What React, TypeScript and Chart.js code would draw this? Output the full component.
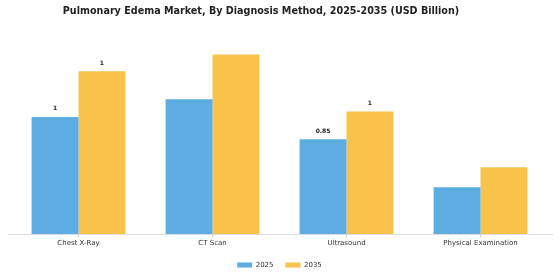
import React, { useEffect, useRef } from "react";
import { Chart, registerables } from "chart.js";

Chart.register(...registerables);

const TITLE = "Pulmonary Edema Market, By Diagnosis Method, 2025-2035 (USD Billion)";
const categories = ["Chest X-Ray", "CT Scan", "Ultrasound", "Physical Examination"];
const seriesNames = ["2025", "2035"];
const values2025 = [1.05, 1.21, 0.85, 0.42];
const values2035 = [1.46, 1.61, 1.1, 0.6];
const labels2025 = ["1", "", "0.85", ""];
const labels2035 = ["1", "", "1", ""];
const COLORS = ["#5DADE2", "#F8C24B"];
const FONT = "'DejaVu Sans', sans-serif";

const titlePlugin = {
  id: "customTitle",
  afterDraw(chart: any) {
    const ctx = chart.ctx;
    ctx.save();
    ctx.font = `bold 9.6px ${FONT}`;
    ctx.fillStyle = "#222";
    ctx.textAlign = "center";
    ctx.textBaseline = "middle";
    ctx.fillText(TITLE, 261, 11);
    ctx.restore();
  },
};

const axisLinePlugin = {
  id: "axisLine",
  beforeDatasetsDraw(chart: any) {
    const ctx = chart.ctx;
    const y = Math.round(chart.chartArea.bottom) + 0.5;
    ctx.save();
    ctx.strokeStyle = "#dddddd";
    ctx.lineWidth = 1;
    ctx.beginPath();
    ctx.moveTo(7.5, y);
    ctx.lineTo(553, y);
    ctx.stroke();
    ctx.restore();
  },
};

const valueLabelPlugin = {
  id: "valueLabels",
  afterDatasetsDraw(chart: any) {
    const ctx = chart.ctx;
    const all = [labels2025, labels2035];
    ctx.save();
    ctx.font = `bold 6px ${FONT}`;
    ctx.fillStyle = "#222";
    ctx.textAlign = "center";
    ctx.textBaseline = "middle";
    chart.data.datasets.forEach((_ds: any, di: number) => {
      const meta = chart.getDatasetMeta(di);
      meta.data.forEach((bar: any, i: number) => {
        const t = all[di][i];
        if (t) ctx.fillText(t, bar.x, bar.y - 8.2);
      });
    });
    ctx.restore();
  },
};

export default function App() {
  const ref = useRef<HTMLCanvasElement | null>(null);
  useEffect(() => {
    if (!ref.current) return;
    const chart = new Chart(ref.current, {
      type: "bar",
      data: {
        labels: categories,
        datasets: [
          { label: seriesNames[0], data: values2025, backgroundColor: COLORS[0] },
          { label: seriesNames[1], data: values2035, backgroundColor: COLORS[1] },
        ],
      },
      options: {
        responsive: false,
        animation: false,
        devicePixelRatio: 1,
        layout: { padding: { top: 40, left: 11.5, right: 12.5, bottom: 1.5 } },
        datasets: { bar: { categoryPercentage: 0.7, barPercentage: 1.0 } },
        scales: {
          x: {
            grid: { offset: false, drawOnChartArea: false, drawTicks: true, tickLength: 3, color: "#cccccc" },
            border: { display: false },
            ticks: { font: { family: FONT, size: 7 }, color: "#333", padding: 2 },
          },
          y: { display: false, min: 0, max: 1.741 },
        },
        plugins: {
          title: { display: false },
          tooltip: { enabled: false },
          legend: {
            position: "bottom",
            labels: {
              boxWidth: 15,
              boxHeight: 5,
              padding: 12,
              color: "#333",
              font: { family: FONT, size: 7 },
            },
          },
        },
      },
      plugins: [titlePlugin, axisLinePlugin, valueLabelPlugin],
    });
    return () => chart.destroy();
  }, []);
  return (
    <div style={{ position: "absolute", left: 0, top: 0, width: 560, height: 280, background: "#fff" }}>
      <canvas ref={ref} width={560} height={280} />
    </div>
  );
}
